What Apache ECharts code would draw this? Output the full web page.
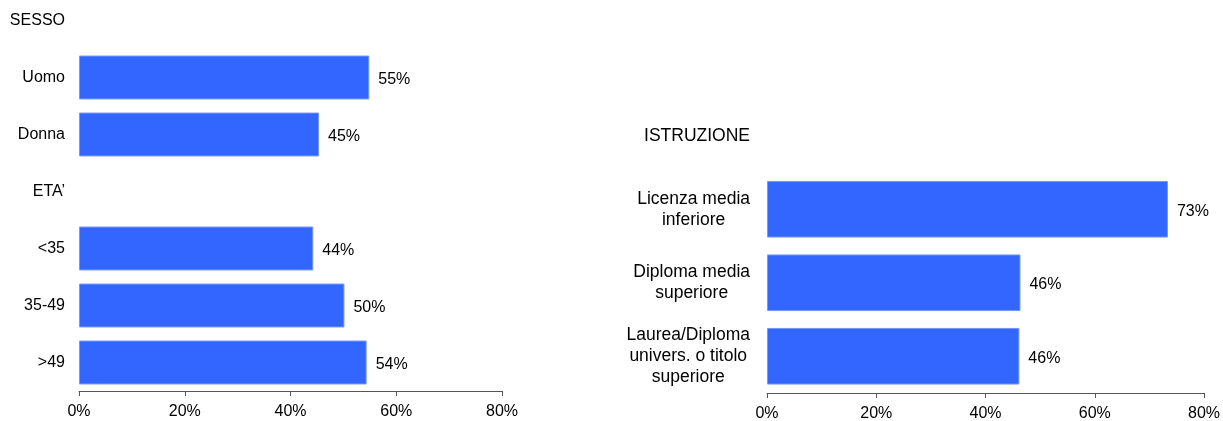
<!DOCTYPE html>
<html>
<head>
<meta charset="utf-8">
<script src="https://cdn.jsdelivr.net/npm/echarts@6/dist/echarts.min.js"></script>
<style>
html, body { margin: 0; padding: 0; background: #fff; }
#chart { width: 1223px; height: 421px; }
</style>
</head>
<body>
<div id="chart"></div>
<script>
// left panel: headings are empty slots in the category list
const leftCategories = ["SESSO", "Uomo", "Donna", "ETA\u2019", "<35", "35-49", ">49"];
const leftValues = ["-", 54.9, 45.4, "-", 44.3, 50.2, 54.4];

const rightCategories = ["ISTRUZIONE", "Licenza media\ninferiore", "Diploma media\nsuperiore", "Laurea/Diploma\nunivers. o titolo\nsuperiore"];
const rightValues = ["-", 73.4, 46.4, 46.2];

const xTicks = [0, 20, 40, 60, 80];

const FONT = "'Liberation Sans', Arial, sans-serif";
const FS = 16;
const barColor = "#3366ff";

function centerLines(v) {
	return v.split("\n").map(s => "{c|" + s + "}").join("\n");
}

function xAxisFor(gridIndex) {
	return {
		type: "value",
		gridIndex: gridIndex,
		min: xTicks[0],
		max: xTicks[xTicks.length - 1],
		interval: xTicks[1] - xTicks[0],
		axisLine: {show: true, lineStyle: {color: "#555", width: 1}},
		axisTick: {show: true, length: 5, lineStyle: {color: "#555"}},
		splitLine: {show: false},
		axisLabel: {
			formatter: "{value}%",
			color: "#000",
			fontSize: FS,
			fontFamily: FONT,
			margin: 13,
			showMinLabel: true,
			showMaxLabel: true
		}
	};
}

function yAxisFor(gridIndex, cats, margin, fs) {
	return {
		type: "category",
		gridIndex: gridIndex,
		data: cats,
		inverse: true,
		axisLine: {show: false},
		axisTick: {show: false},
		axisLabel: {
			color: "#000",
			fontSize: fs,
			fontFamily: FONT,
			margin: margin,
			align: "right",
			interval: 0,
			lineHeight: 21,
			formatter: centerLines,
			rich: {
				c: {align: "center", fontSize: fs, fontFamily: FONT, color: "#000", lineHeight: 21}
			}
		}
	};
}

function barSeries(idx, values) {
	return {
		type: "bar",
		xAxisIndex: idx,
		yAxisIndex: idx,
		data: values,
		barCategoryGap: "23%",
		itemStyle: {color: barColor, borderColor: "#7396ff", borderWidth: 1},
		label: {
			show: true,
			position: "right",
			distance: 9,
			offset: [0, 2],
			color: "#000",
			fontSize: FS,
			fontFamily: FONT,
			formatter: p => Math.round(p.value) + "%"
		},
		animation: false
	};
}

const chart = echarts.init(document.getElementById("chart"));
chart.setOption({
	animation: false,
	grid: [
		{left: 79, width: 423, top: -8, height: 399, outerBoundsMode: "none"},
		{left: 767, width: 437, top: 99, height: 294, outerBoundsMode: "none"}
	],
	xAxis: [xAxisFor(0), xAxisFor(1)],
	yAxis: [yAxisFor(0, leftCategories, 14, FS), yAxisFor(1, rightCategories, 17, 17.5)],
	series: [barSeries(0, leftValues), barSeries(1, rightValues)]
});
</script>
</body>
</html>
